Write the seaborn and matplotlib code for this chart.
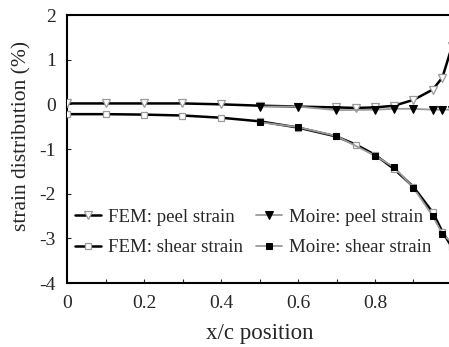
import matplotlib
matplotlib.use("Agg")
import matplotlib.pyplot as plt
import seaborn as sns
from matplotlib.ticker import MultipleLocator

sns.set_style("ticks")
plt.rcParams["font.family"] = ["Liberation Serif", "DejaVu Serif"]
plt.rcParams["axes.unicode_minus"] = False
plt.rcParams["xtick.direction"] = "in"
plt.rcParams["ytick.direction"] = "in"

# FEM results along the bond line
fem_x = [0.0, 0.1, 0.2, 0.3, 0.4, 0.5, 0.6, 0.7, 0.75, 0.8, 0.85, 0.9, 0.95, 0.975, 1.0]
fem_peel = [0.02, 0.02, 0.02, 0.02, 0.0, -0.03, -0.05, -0.07, -0.08, -0.07, -0.03,
            0.1, 0.33, 0.6, 1.3]
fem_shear = [-0.22, -0.22, -0.23, -0.25, -0.3, -0.38, -0.52, -0.72, -0.9, -1.13,
             -1.45, -1.85, -2.42, -2.85, -3.2]

# Moire interferometry measurements
moire_x = [0.5, 0.6, 0.7, 0.8, 0.85, 0.9, 0.95, 0.975, 1.0]
moire_peel = [-0.05, -0.05, -0.13, -0.12, -0.1, -0.1, -0.12, -0.12, -0.12]
moire_shear = [-0.4, -0.51, -0.71, -1.15, -1.41, -1.87, -2.5, -2.9, -3.1]

GRAY = "#9a9a9a"

fig = plt.figure(figsize=(4.49, 3.47), dpi=100)
ax = fig.add_axes([67 / 449, 64 / 347, 385 / 449, 268 / 347])

sns.lineplot(x=moire_x, y=moire_peel, ax=ax, color=GRAY, lw=1.3, marker="v",
             markersize=6, markerfacecolor="black", markeredgecolor="black",
             label="Moire: peel strain", sort=False, zorder=4)
sns.lineplot(x=moire_x, y=moire_shear, ax=ax, color=GRAY, lw=1.3, marker="s",
             markersize=5, markerfacecolor="black", markeredgecolor="black",
             label="Moire: shear strain", sort=False, zorder=4)
sns.lineplot(x=fem_x, y=fem_peel, ax=ax, color="black", lw=1.8, marker="v",
             markersize=6, markerfacecolor="white", markeredgecolor=GRAY,
             markeredgewidth=0.9, label="FEM: peel strain", sort=False, zorder=3)
sns.lineplot(x=fem_x, y=fem_shear, ax=ax, color="black", lw=1.8, marker="s",
             markersize=5, markerfacecolor="white", markeredgecolor=GRAY,
             markeredgewidth=0.9, label="FEM: shear strain", sort=False, zorder=3)

ax.set_xlim(0, 1)
ax.set_ylim(-4, 2)
ax.xaxis.set_minor_locator(MultipleLocator(0.1))
ax.yaxis.set_major_locator(MultipleLocator(1))
ax.set_xticks([0, 0.2, 0.4, 0.6, 0.8, 1.0])
ax.set_xticklabels(["0", "0.2", "0.4", "0.6", "0.8", "1"])
ax.tick_params(axis="both", which="both", direction="in", length=3, width=0.8,
               labelsize=14, top=False, right=False)
ax.tick_params(axis="x", which="both", pad=9)
ax.tick_params(axis="y", which="both", pad=8)
for s in ax.spines.values():
    s.set_linewidth(1.5)
    s.set_color("black")

ax.set_xlabel("x/c position", fontsize=16.5)
ax.set_ylabel("strain distribution (%)", fontsize=15.5)
ax.xaxis.set_label_coords(0.5, -0.15)
ax.yaxis.set_label_coords(-0.092, 0.55)

handles, labels = ax.get_legend_handles_labels()
order = [labels.index(n) for n in ["FEM: peel strain", "FEM: shear strain",
                                    "Moire: peel strain", "Moire: shear strain"]]
ax.legend([handles[i] for i in order], [labels[i] for i in order], ncol=2,
          loc="lower left", bbox_to_anchor=(0.02, 0.10), frameon=False,
          fontsize=13.6, handlelength=1.4, handletextpad=0.35, columnspacing=0.7,
          borderpad=0, borderaxespad=0, labelspacing=0.7)

fig.savefig("out.png", dpi=100)
